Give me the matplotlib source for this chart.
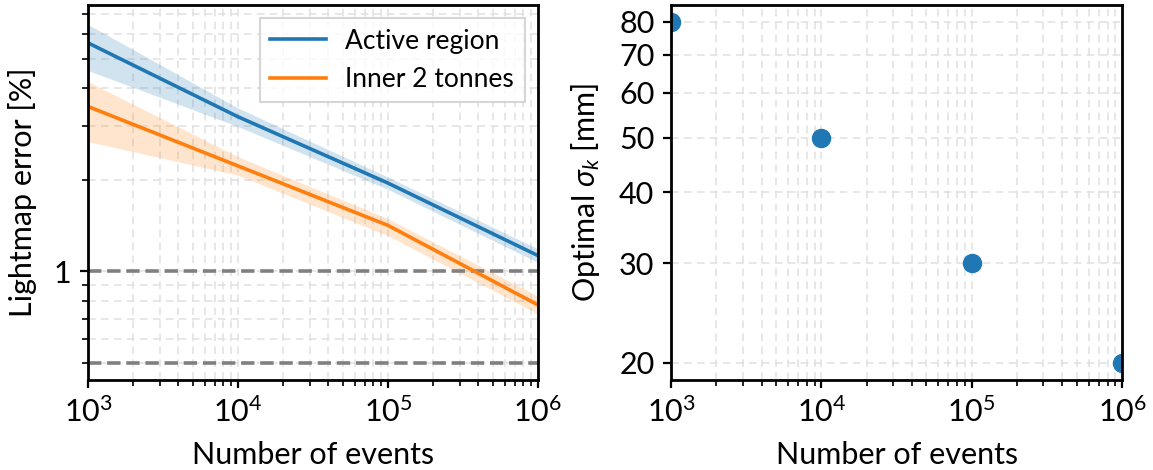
import numpy as np
import matplotlib
matplotlib.use('Agg')
from matplotlib import pyplot as plt
from matplotlib.ticker import FixedLocator, NullFormatter, LogLocator

plt.rcParams['font.family'] = ['Lato', 'DejaVu Sans']
plt.rcParams['mathtext.fontset'] = 'custom'
plt.rcParams['mathtext.it'] = 'Lato:italic'
plt.rcParams['mathtext.rm'] = 'Lato'
plt.rcParams['font.size'] = 22

# left panel data
n_events = [1e3, 1e4, 1e5, 1e6]
active_err = [5.63, 3.22, 1.95, 1.127]
active_lo = [4.57, 2.99, 1.86, 1.07]
active_hi = [6.47, 3.44, 2.04, 1.186]
inner_err = [3.48, 2.22, 1.416, 0.776]
inner_lo = [2.67, 2.07, 1.31, 0.725]
inner_hi = [4.2, 2.38, 1.49, 0.83]
ref_levels = [1.0, 0.5]

# right panel data
sigma_k = [80, 50, 30, 20]
sigma_ticks = [20, 30, 40, 50, 60, 70, 80]

fig = plt.figure(figsize=(11.53, 4.7), dpi=100)
ax1 = fig.add_axes([0.0763, 0.1915, 0.3903, 0.798])
ax2 = fig.add_axes([0.582, 0.1915, 0.3912, 0.798])

grid_kw = dict(which='both', ls=(0, (5, 3.5)), color='#e0e0e0', lw=1.1)

ax1.plot(n_events, active_err, color='tab:blue', lw=2.6, label='Active region')
ax1.fill_between(n_events, active_lo, active_hi, color='tab:blue', alpha=0.2, lw=0)
ax1.plot(n_events, inner_err, color='tab:orange', lw=2.6, label='Inner 2 tonnes')
ax1.fill_between(n_events, inner_lo, inner_hi, color='tab:orange', alpha=0.2, lw=0)
for lev in ref_levels:
    ax1.axhline(lev, color='gray', ls='--', lw=2.6, zorder=1)
ax1.set_xscale('log')
ax1.set_yscale('log')
ax1.set_xlim(1e3, 1e6)
ax1.set_ylim(0.44, 7.5)
ax1.yaxis.set_major_locator(FixedLocator([1]))
ax1.set_yticklabels(['1'])
ax1.yaxis.set_minor_locator(LogLocator(base=10, subs=np.arange(2, 10)))
ax1.yaxis.set_minor_formatter(NullFormatter())
ax1.grid(**grid_kw)
ax1.set_axisbelow(True)
ax1.set_xlabel('Number of events', labelpad=10)
ax1.set_ylabel('Lightmap error [%]', labelpad=12)
leg = ax1.legend(loc='upper right', fancybox=False, framealpha=0.8, edgecolor='#cccccc',
                 fontsize=19, handlelength=2.1, handletextpad=0.75, borderaxespad=0.5)
leg.get_frame().set_linewidth(1.5)

ax2.plot(n_events, sigma_k, 'o', color='tab:blue', ms=13)
ax2.set_xscale('log')
ax2.set_yscale('log')
ax2.set_xlim(1e3, 1e6)
ax2.yaxis.set_major_locator(FixedLocator(sigma_ticks))
ax2.set_yticklabels([str(t) for t in sigma_ticks])
ax2.yaxis.set_minor_formatter(NullFormatter())
ax2.yaxis.set_minor_locator(FixedLocator([]))
ax2.grid(**grid_kw)
ax2.set_axisbelow(True)
ax2.set_xlabel('Number of events', labelpad=10)
ax2.set_ylabel(r'Optimal $\sigma_k$ [mm]', labelpad=12)

for ax in (ax1, ax2):
    for s in ax.spines.values():
        s.set_linewidth(2.0)
    ax.tick_params(which='major', length=6, width=1.6, pad=6)
    ax.tick_params(which='minor', length=4, width=1.2)

fig.savefig('out.png', dpi=100)
